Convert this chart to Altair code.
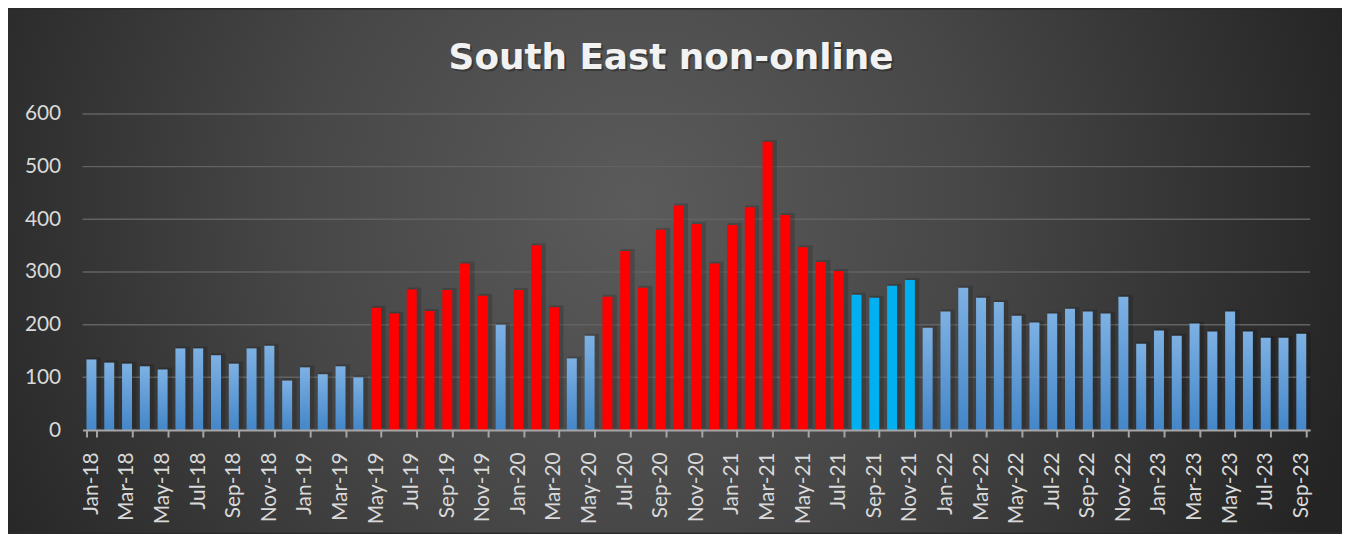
import altair as alt
import pandas as pd

months = [
    "Jan-18", "Feb-18", "Mar-18", "Apr-18", "May-18", "Jun-18", "Jul-18", "Aug-18", "Sep-18", "Oct-18", "Nov-18", "Dec-18",
    "Jan-19", "Feb-19", "Mar-19", "Apr-19", "May-19", "Jun-19", "Jul-19", "Aug-19", "Sep-19", "Oct-19", "Nov-19", "Dec-19",
    "Jan-20", "Feb-20", "Mar-20", "Apr-20", "May-20", "Jun-20", "Jul-20", "Aug-20", "Sep-20", "Oct-20", "Nov-20", "Dec-20",
    "Jan-21", "Feb-21", "Mar-21", "Apr-21", "May-21", "Jun-21", "Jul-21", "Aug-21", "Sep-21", "Oct-21", "Nov-21", "Dec-21",
    "Jan-22", "Feb-22", "Mar-22", "Apr-22", "May-22", "Jun-22", "Jul-22", "Aug-22", "Sep-22", "Oct-22", "Nov-22", "Dec-22",
    "Jan-23", "Feb-23", "Mar-23", "Apr-23", "May-23", "Jun-23", "Jul-23", "Aug-23", "Sep-23",
]

values = [
    134, 128, 126, 121, 115, 155, 155, 142, 126, 155, 160, 94,
    119, 106, 121, 100, 232, 221, 267, 226, 266, 316, 255, 200,
    266, 351, 233, 136, 179, 253, 340, 270, 380, 426, 391, 316,
    389, 423, 547, 408, 347, 319, 302, 257, 251, 274, 285, 194,
    225, 270, 251, 243, 217, 204, 221, 230, 225, 221, 253, 164,
    189, 179, 202, 187, 225, 187, 175, 175, 183,
]

groups = (
    ["base"] * 16
    + ["red"] * 7 + ["base"]
    + ["red"] * 3 + ["base"] * 2
    + ["red"] * 14
    + ["cyan"] * 4
    + ["base"] * 22
)

title_text = ["South East non-online"]
tick_months = months[::2]
y_ticks = [0, 100, 200, 300, 400, 500, 600]
grid_vals = [100, 200, 300, 400, 500, 600]

df = pd.DataFrame({"month": months, "value": values, "group": groups})
grid_df = pd.DataFrame({"g": grid_vals})
title_df = pd.DataFrame({"t": title_text})

W, H = 1235, 318
PL, PT, PR, PB = 75, 105, 32, 103

label_font = "Lato"
label_color = "#d9d9d9"

x_enc = alt.X(
    "month:N",
    sort=months,
    title=None,
    scale=alt.Scale(paddingInner=0.44, paddingOuter=0.22),
    axis=alt.Axis(
        values=tick_months,
        labelAngle=-90,
        labelAlign="right",
        labelBaseline="middle",
        tickBand="extent",
        tickSize=7,
        tickColor="#a6a6a6",
        tickWidth=2,
        domainColor="#a6a6a6",
        domainWidth=2,
        labelPadding=15,
        labelColor=label_color,
        labelFont=label_font,
        labelFontSize=21,
        grid=False,
        zindex=1,
    ),
)

y_axis = alt.Axis(
    values=y_ticks,
    ticks=False,
    domain=False,
    grid=False,
    labelPadding=22,
    labelColor=label_color,
    labelFont=label_font,
    labelFontSize=21,
    zindex=1,
)
y_scale = alt.Scale(domain=[0, 600], nice=False)

bg_gradient = {
    "gradient": "radial",
    "x1": 0.47, "y1": 0.45, "r1": 0,
    "x2": 0.47, "y2": 0.45, "r2": 0.56,
    "stops": [
        {"offset": 0, "color": "#5b5b5b"},
        {"offset": 0.45, "color": "#474747"},
        {"offset": 1, "color": "#242424"},
    ],
}

blue_gradient = {
    "gradient": "linear",
    "x1": 0, "y1": 0, "x2": 0, "y2": 1,
    "stops": [
        {"offset": 0, "color": "#7db1e3"},
        {"offset": 1, "color": "#4486c8"},
    ],
}

bg = alt.Chart(pd.DataFrame({"k": [0]})).mark_rect(fill=bg_gradient, stroke=None).encode(
    x=alt.value(-PL), x2=alt.value(W + PR), y=alt.value(-PT), y2=alt.value(H + PB)
)

title_shadow = alt.Chart(title_df).mark_text(
    font="DejaVu Sans",
    fontSize=36,
    fontWeight="bold",
    color="#000000",
    opacity=0.28,
    align="center",
    baseline="alphabetic",
).encode(text="t:N", x=alt.value(594), y=alt.value(-43))

title = alt.Chart(title_df).mark_text(
    font="DejaVu Sans",
    fontSize=36,
    fontWeight="bold",
    color="#f2f2f2",
    align="center",
    baseline="alphabetic",
).encode(text="t:N", x=alt.value(592), y=alt.value(-45))

grid = alt.Chart(grid_df).mark_rule(color="#626262", strokeWidth=1.5).encode(
    y=alt.Y("g:Q", scale=y_scale, axis=y_axis, title=None)
)

base = alt.Chart(df)

shadow = base.mark_bar(color="#000000", opacity=0.16, width=14, xOffset=2.5, yOffset=-2).encode(
    x=x_enc, y=alt.Y("value:Q", scale=y_scale, axis=y_axis, title=None)
)

blue = base.transform_filter(alt.datum.group == "base").mark_bar(fill=blue_gradient).encode(
    x=x_enc, y=alt.Y("value:Q", scale=y_scale, axis=y_axis, title=None)
)
red = base.transform_filter(alt.datum.group == "red").mark_bar(color="#ff0000").encode(
    x=x_enc, y=alt.Y("value:Q", scale=y_scale, axis=y_axis, title=None)
)
cyan = base.transform_filter(alt.datum.group == "cyan").mark_bar(color="#00b0f0").encode(
    x=x_enc, y=alt.Y("value:Q", scale=y_scale, axis=y_axis, title=None)
)

chart = alt.layer(bg, title_shadow, title, grid, shadow, blue, red, cyan).properties(
    width=W,
    height=H,
    autosize=alt.AutoSizeParams(type="none"),
    padding={"left": PL, "top": PT, "right": PR, "bottom": PB},
).configure(background="#2a2a2a").configure_view(stroke=None)

chart.save("out.html", embed_options={"renderer": "svg", "actions": False})
